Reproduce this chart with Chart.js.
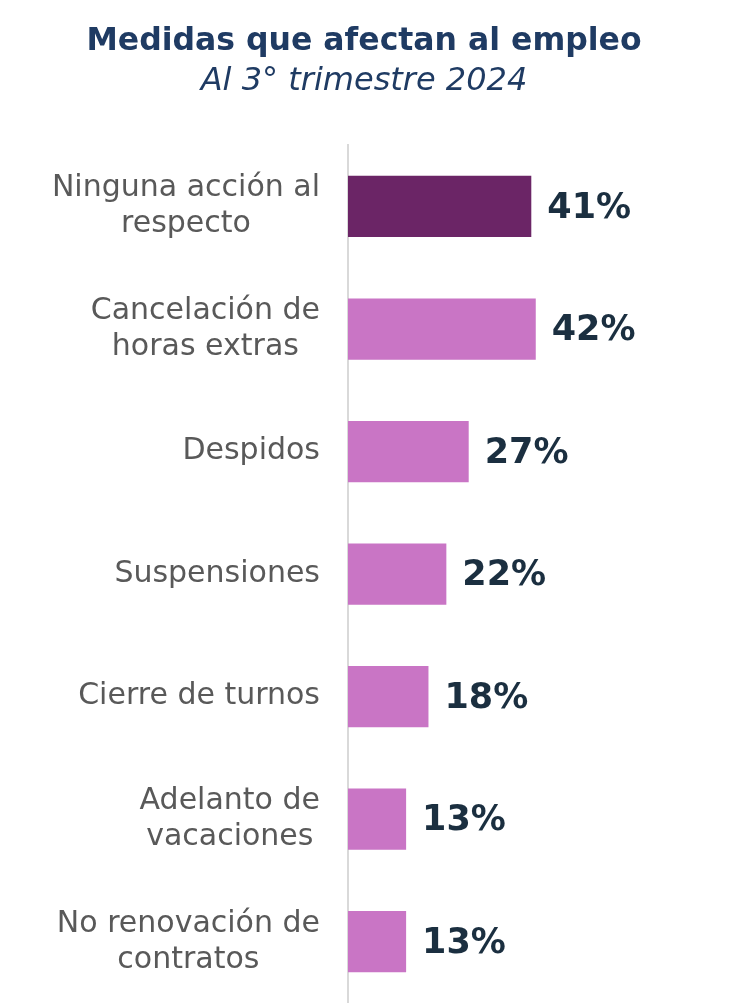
<!DOCTYPE html>
<html>
<head>
<meta charset="utf-8">
<script src="https://cdn.jsdelivr.net/npm/chart.js@4.4.1/dist/chart.umd.min.js"></script>
<style>
  html, body { margin: 0; padding: 0; background: #ffffff; }
  #wrap { width: 730px; height: 1003px; position: relative; }
</style>
</head>
<body>
<div id="wrap"><canvas id="chart"></canvas></div>
<script>
// data
const categories = [
  ["Ninguna acción al", "respecto"],
  ["Cancelación de", "horas extras"],
  ["Despidos"],
  ["Suspensiones"],
  ["Cierre de turnos"],
  ["Adelanto de", "vacaciones"],
  ["No renovación de", "contratos"]
];
const values = [41, 42, 27, 22, 18, 13, 13];
const barColors = ["#6b2566", "#c975c5", "#c975c5", "#c975c5", "#c975c5", "#c975c5", "#c975c5"];

const FONT = "'DejaVu Sans', sans-serif";

// category labels: block right-aligned to the axis, lines centred inside the block
const categoryLabels = {
  id: "categoryLabels",
  afterDraw(chart) {
    const ctx = chart.ctx;
    const yScale = chart.scales.y;
    const right = yScale.right - 28;
    const lineH = 36;
    ctx.save();
    ctx.font = "30px " + FONT;
    ctx.fillStyle = "#595959";
    ctx.textAlign = "center";
    ctx.textBaseline = "middle";
    categories.forEach((lines, i) => {
      const w = Math.max(...lines.map(l => ctx.measureText(l).width));
      const cx = right - w / 2;
      const cy = yScale.getPixelForTick(i);
      const top = cy - (lines.length - 1) * lineH / 2;
      lines.forEach((l, j) => ctx.fillText(l, cx, top + j * lineH));
    });
    ctx.restore();
  }
};

// bold % label after each bar
const valueLabels = {
  id: "valueLabels",
  afterDatasetsDraw(chart) {
    const ctx = chart.ctx;
    const meta = chart.getDatasetMeta(0);
    ctx.save();
    ctx.font = "bold 35px " + FONT;
    ctx.fillStyle = "#1b2f40";
    ctx.textAlign = "left";
    ctx.textBaseline = "middle";
    meta.data.forEach((bar, i) => {
      ctx.fillText(values[i] + "%", bar.x + 16, bar.y + 2);
    });
    ctx.restore();
  }
};

new Chart(document.getElementById("chart"), {
  type: "bar",
  data: {
    labels: categories.map(c => c.join(" ")),
    datasets: [{
      data: values,
      backgroundColor: barColors,
      borderWidth: 0,
      barPercentage: 0.5,
      categoryPercentage: 1.0
    }]
  },
  options: {
    indexAxis: "y",
    responsive: true,
    maintainAspectRatio: false,
    animation: false,
    layout: { padding: { left: 0, right: 2, top: 0, bottom: 0 } },
    scales: {
      x: { display: false, min: 0, max: 85 },
      y: {
        grid: { display: false, drawTicks: false },
        border: { display: true, color: "#d9d9d9", width: 2 },
        ticks: { display: false },
        afterFit(scale) {
          scale.width = 348;
          scale.paddingTop = 0;
          scale.paddingBottom = 0;
        }
      }
    },
    plugins: {
      legend: { display: false },
      tooltip: { enabled: false },
      title: {
        display: true,
        text: "Medidas que afectan al empleo",
        color: "#1f3b63",
        font: { family: FONT, size: 31.5, weight: "bold" },
        padding: { top: 23, bottom: 2 }
      },
      subtitle: {
        display: true,
        text: "Al 3° trimestre 2024",
        color: "#1f3b63",
        font: { family: FONT, size: 32, style: "italic" },
        padding: { top: 0, bottom: 44 }
      }
    }
  },
  plugins: [valueLabels, categoryLabels]
});
</script>
</body>
</html>
